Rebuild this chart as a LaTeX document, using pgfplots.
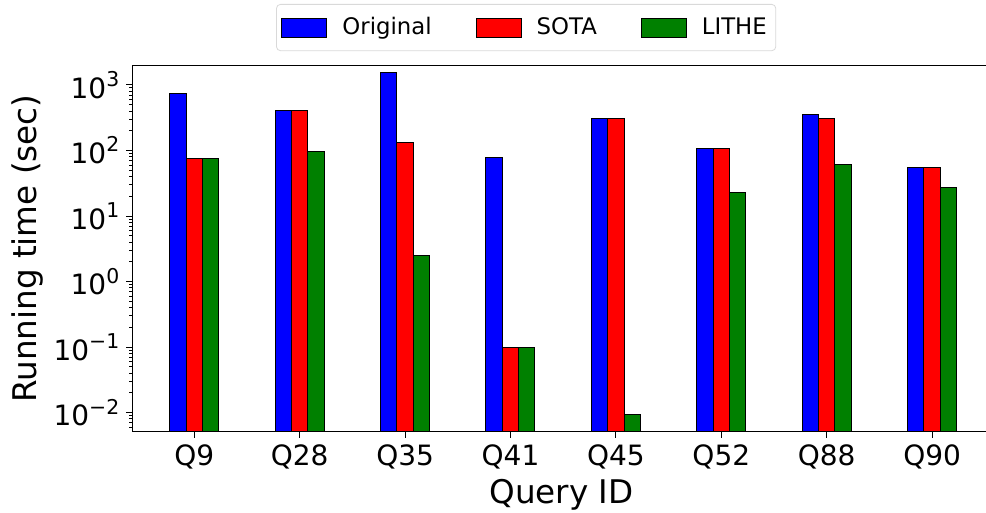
\documentclass[border=0pt]{standalone}
\usepackage{pgfplots}
\pgfplotsset{compat=1.18}
\usepackage{fontspec}
\setmainfont{DejaVu Sans}
\newcommand{\tp}[1]{10\raisebox{0.42em}{\fontsize{10.2}{12}\selectfont #1}}
\pgfplotsset{boxlegend/.style={legend image code/.code={\draw[##1, sharp corners] (0pt,-4.75pt) rectangle (22.5pt,4.75pt); \path (28pt,0pt);}}}
\begin{document}
\begin{tikzpicture}
\begin{axis}[
 name=ax,
 scale only axis,
 width=430.9pt, height=183pt,
 xmin=-0.588, xmax=7.588,
 ymode=log, ymin=0.0051, ymax=1970,
 log origin=infty,
 ybar, bar width=0.155, bar shift=0pt,
 xtick={0,...,7},
 xticklabels={Q9,Q28,Q35,Q41,Q45,Q52,Q88,Q90},
 ytick={0.01,0.1,1,10,100,1000},
 yticklabels={\tp{−2},\tp{−1},\tp{0},\tp{1},\tp{2},\tp{3}},
 minor ytick={0.006,0.007,0.008,0.009,0.02,0.03,0.04,0.05,0.06,0.07,0.08,0.09,0.2,0.3,0.4,0.5,0.6,0.7,0.8,0.9,2,3,4,5,6,7,8,9,20,30,40,50,60,70,80,90,200,300,400,500,600,700,800,900},
 tick align=outside,
 tick pos=left,
 major tick length=3pt, minor tick length=1.6pt,
 tick style={black, line width=0.5pt},
 axis line style={line width=0.6pt},
 ticklabel style={font=\fontsize{14}{16}\selectfont},
 xlabel={Query ID}, ylabel={Running time (sec)},
 label style={font=\fontsize{16.3}{18}\selectfont},
 ylabel style={at={(axis description cs:-0.122,0.5)}, anchor=center},
 xlabel style={at={(axis description cs:0.498,-0.172)}, anchor=center},
 legend style={at={(axis description cs:0.457,1.1686)}, anchor=north, legend columns=3,
   draw=black!15, rounded corners=2pt, font=\fontsize{11.4}{13}\selectfont,
   inner xsep=2.5pt, inner ysep=4.5pt,
   /tikz/every even column/.append style={column sep=20pt}},
]
\addplot[fill={rgb,255:red,0;green,0;blue,255}, draw=black, line width=0.5pt, boxlegend]
  coordinates {(-0.155,747) (0.845,405) (1.845,1540) (2.845,78) (3.845,309) (4.845,109) (5.845,360) (6.845,54.5)};
\addlegendentry{Original}
\addplot[fill={rgb,255:red,255;green,0;blue,0}, draw=black, line width=0.5pt, boxlegend]
  coordinates {(0,75) (1,405) (2,131) (3,0.097) (4,309) (5,109) (6,310) (7,54.5)};
\addlegendentry{SOTA}
\addplot[fill={rgb,255:red,0;green,128;blue,0}, draw=black, line width=0.5pt, boxlegend]
  coordinates {(0.155,75) (1.155,95) (2.155,2.53) (3.155,0.097) (4.155,0.0093) (5.155,23.2) (6.155,62) (7.155,27.7)};
\addlegendentry{LITHE}
\end{axis}
\pgfresetboundingbox
\useasboundingbox ([shift={(-66.15pt,-40.65pt)}]ax.south west) rectangle ([shift={(426.85pt,215.85pt)}]ax.south west);
\end{tikzpicture}
\end{document}
